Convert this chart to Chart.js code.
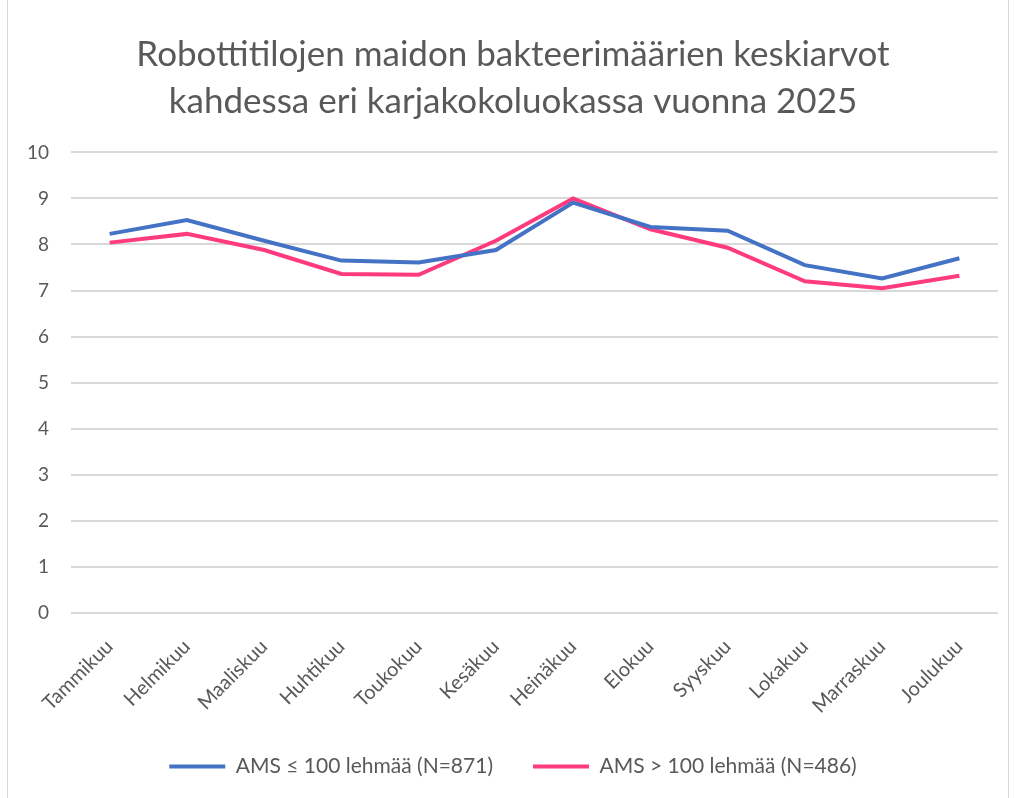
<!DOCTYPE html>
<html>
<head>
<meta charset="utf-8">
<script src="https://cdn.jsdelivr.net/npm/chart.js@4/dist/chart.umd.min.js"></script>
<style>
  html, body { margin: 0; padding: 0; background: #fff; overflow: hidden; }
  #wrap { position: absolute; left: 7px; top: -1px; width: 1002px; height: 800px; box-sizing: border-box; border: 1px solid #d9d9d9; }
  #myChart { position: absolute; left: -8px; top: 0; }
</style>
</head>
<body>
<div id="wrap"><canvas id="myChart" width="1014" height="798"></canvas></div>
<script>
const months = ['Tammikuu', 'Helmikuu', 'Maaliskuu', 'Huhtikuu', 'Toukokuu', 'Kesäkuu',
  'Heinäkuu', 'Elokuu', 'Syyskuu', 'Lokakuu', 'Marraskuu', 'Joulukuu']
const small = [8.23, 8.53, 8.08, 7.65, 7.61, 7.88, 8.91, 8.38, 8.30, 7.55, 7.26, 7.70]
const large = [8.04, 8.23, 7.88, 7.36, 7.34, 8.08, 9.00, 8.33, 7.93, 7.20, 7.05, 7.32]
const titleLines = ['Robottitilojen maidon bakteerimäärien keskiarvot',
  'kahdessa eri karjakokoluokassa vuonna 2025']

const font = "Lato, 'Open Sans', sans-serif"
const grey = '#595959'

;(() => {
  'use strict'
  const ctx = document.getElementById('myChart')
  // eslint-disable-next-line no-unused-vars
  const myChart = new Chart(ctx, {
    type: 'line',
    data: {
      labels: months,
      datasets: [{
        label: 'AMS ≤ 100 lehmää (N=871)',
        data: small,
        borderColor: '#4472c4',
        backgroundColor: '#4472c4',
        borderWidth: 4,
        pointRadius: 0,
        tension: 0
      }, {
        label: 'AMS > 100 lehmää (N=486)',
        data: large,
        borderColor: '#ff3b7f',
        backgroundColor: '#ff3b7f',
        borderWidth: 4,
        pointRadius: 0,
        tension: 0
      }]
    },
    options: {
      responsive: false,
      animation: false,
      layout: { padding: { left: 28, right: 16, top: 32, bottom: 11 } },
      plugins: {
        title: {
          display: true,
          text: titleLines,
          color: grey,
          font: { family: font, size: 35, weight: 'normal', lineHeight: 1.32 },
          padding: { top: 0, bottom: 28 }
        },
        legend: {
          position: 'bottom',
          labels: {
            color: grey,
            font: { family: font, size: 21 },
            usePointStyle: true,
            pointStyle: 'line',
            pointStyleWidth: 56,
            boxHeight: 4,
            padding: 40
          }
        },
        tooltip: { enabled: false }
      },
      scales: {
        x: {
          offset: true,
          grid: { display: false },
          border: { display: false },
          ticks: {
            color: grey,
            font: { family: font, size: 20 },
            minRotation: 45,
            maxRotation: 45,
            padding: 14
          },
          afterFit: (scale) => {
            // first rotated label may hang into the left margin
            scale.paddingLeft = 0
            if (scale._margins) scale._margins.left = 0
            scale.getPadding = () => ({ left: 0, top: 0, right: 0, bottom: 0 })
            scale.height -= 16
          }
        },
        y: {
          min: 0,
          max: 10,
          grid: { color: '#d9d9d9', lineWidth: 2, drawTicks: false },
          border: { display: false },
          ticks: {
            stepSize: 1,
            color: grey,
            font: { family: font, size: 19 },
            padding: 22
          },
          afterFit: (scale) => {
            scale.width = 43
          }
        }
      }
    }
  })
})()
</script>
</body>
</html>
